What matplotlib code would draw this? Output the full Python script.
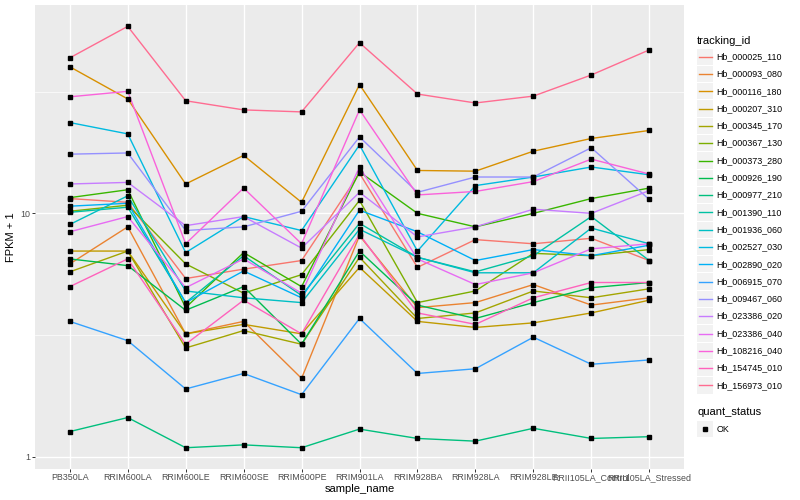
import numpy as np
import matplotlib.pyplot as plt
from matplotlib.patches import Rectangle
from matplotlib.lines import Line2D

plt.rcParams['font.family'] = ['Liberation Sans', 'DejaVu Sans']

# samples on the x axis
samples = ['PB350LA', 'RRIM600LA', 'RRIM600LE', 'RRIM600SE', 'RRIM600PE', 'RRIM901LA',
           'RRIM928BA', 'RRIM928LA', 'RRIM928LE', 'RRII105LA_Control', 'RRII105LA_Stressed']

tracking_ids = ['Hb_000025_110', 'Hb_000093_080', 'Hb_000116_180', 'Hb_000207_310', 'Hb_000345_170',
                'Hb_000367_130', 'Hb_000373_280', 'Hb_000926_190', 'Hb_000977_210', 'Hb_001390_110',
                'Hb_001936_060', 'Hb_002527_030', 'Hb_002890_020', 'Hb_006915_070', 'Hb_009467_060',
                'Hb_023386_020', 'Hb_023386_040', 'Hb_108216_040', 'Hb_154745_010', 'Hb_156973_010']

# ggplot hue palette for 20 levels
colours = ['#F8766D', '#EA8331', '#D89000', '#C09B00', '#A3A500', '#7CAE00', '#39B600', '#00BB4E',
           '#00BF7D', '#00C1A3', '#00BFC4', '#00BAE0', '#00B0F6', '#35A2FF', '#9590FF', '#C77CFF',
           '#E76BF3', '#FA62DB', '#FF62BC', '#FF6C91']

# FPKM + 1 values
hb_000025_110 = [11.5, 11.1, 5.4, 5.9, 6.4, 14.6, 6.0, 7.8, 7.5, 7.9, 6.4]
hb_000093_080 = [6.2, 8.8, 3.2, 3.6, 2.1, 8.1, 4.1, 4.3, 5.1, 4.2, 4.5]
hb_000116_180 = [40.0, 29.5, 13.2, 17.3, 11.1, 33.8, 15.0, 14.9, 18.0, 20.3, 21.9]
hb_000207_310 = [7.0, 7.0, 3.2, 3.5, 3.2, 6.0, 3.6, 3.4, 3.55, 3.9, 4.4]
hb_000345_170 = [5.75, 7.0, 2.8, 3.3, 2.9, 6.6, 3.7, 3.9, 4.8, 4.5, 4.9]
hb_000367_130 = [10.2, 10.8, 6.2, 4.7, 5.6, 11.3, 4.3, 4.8, 6.85, 6.7, 7.1]
hb_000373_280 = [11.6, 12.5, 4.1, 6.9, 5.0, 14.8, 10.0, 8.8, 10.0, 11.5, 12.7]
hb_000926_190 = [6.5, 6.1, 4.0, 5.0, 2.9, 7.0, 4.2, 3.7, 4.3, 4.95, 5.2]
hb_000977_210 = [1.27, 1.45, 1.09, 1.12, 1.09, 1.30, 1.19, 1.16, 1.31, 1.19, 1.21]
hb_001390_110 = [10.1, 10.6, 4.3, 6.7, 4.6, 9.1, 6.6, 5.75, 6.7, 9.7, 6.4]
hb_001936_060 = [9.0, 11.8, 4.8, 4.5, 4.3, 8.6, 6.6, 5.7, 5.7, 8.7, 7.5]
hb_002527_030 = [23.6, 21.2, 6.9, 9.7, 8.5, 19.1, 7.0, 13.0, 14.1, 15.5, 14.4]
hb_002890_020 = [10.7, 11.0, 4.3, 5.8, 4.5, 10.3, 8.4, 6.4, 7.1, 6.7, 7.4]
hb_006915_070 = [3.6, 3.0, 1.9, 2.2, 1.8, 3.7, 2.2, 2.3, 3.1, 2.4, 2.5]
hb_009467_060 = [17.5, 17.7, 8.5, 8.8, 10.2, 20.6, 12.2, 14.1, 14.1, 18.6, 11.4]
hb_023386_020 = [13.2, 13.4, 8.9, 9.7, 7.2, 12.2, 8.0, 8.8, 10.4, 10.0, 12.4]
hb_023386_040 = [8.4, 9.7, 4.95, 6.5, 4.7, 15.5, 6.5, 5.1, 5.7, 7.15, 7.5]
hb_108216_040 = [30.1, 31.7, 7.5, 12.7, 7.5, 26.6, 11.9, 12.3, 13.5, 16.7, 14.5]
hb_154745_010 = [5.0, 6.5, 2.9, 4.4, 3.2, 8.2, 3.9, 3.5, 4.5, 5.2, 5.2]
hb_156973_010 = [43.5, 58.6, 29.0, 26.6, 26.1, 50.2, 30.9, 28.4, 30.3, 37.0, 46.9]

series = [hb_000025_110, hb_000093_080, hb_000116_180, hb_000207_310, hb_000345_170,
          hb_000367_130, hb_000373_280, hb_000926_190, hb_000977_210, hb_001390_110,
          hb_001936_060, hb_002527_030, hb_002890_020, hb_006915_070, hb_009467_060,
          hb_023386_020, hb_023386_040, hb_108216_040, hb_154745_010, hb_156973_010]

W, H = 800, 500
fig = plt.figure(figsize=(8, 5), dpi=100)
ax = fig.add_axes([35 / W, 1 - 468.8 / H, (684 - 35) / W, (468.8 - 5.3) / H])
ax.set_facecolor('#EBEBEB')

x = np.arange(len(samples))
for vals, col in zip(series, colours):
    ax.plot(x, vals, color=col, lw=1.0, zorder=2)
for vals in series:
    ax.plot(x, vals, 's', color='black', ms=2.3, zorder=3)

# log scale with ggplot-like expansion
ax.set_yscale('log')
allv = np.log10(np.concatenate([np.array(s) for s in series]))
lo, hi = allv.min(), allv.max()
pad = 0.05 * (hi - lo)
ax.set_ylim(10 ** (lo - pad), 10 ** (hi + pad))
ax.set_xlim(-0.6, len(samples) - 0.4)

ax.set_yticks([1, 10])
ax.set_yticklabels(['1', '10'])
ax.set_yticks([10 ** 0.5, 10 ** 1.5], minor=True)
ax.set_yticklabels([], minor=True)
ax.set_xticks(x)
ax.set_xticklabels(samples)

ax.grid(True, which='major', color='white', lw=1.0, zorder=0)
ax.grid(True, which='minor', axis='y', color='white', lw=0.5, zorder=0)
ax.set_axisbelow(True)
for s in ax.spines.values():
    s.set_visible(False)
ax.tick_params(which='major', length=2.0, width=0.7, color='#333333', labelcolor='#4D4D4D',
               labelsize=6.4, pad=1.2)
ax.tick_params(which='minor', length=0)

ax.set_xlabel('sample_name', fontsize=8, labelpad=1.5)
ax.set_ylabel('FPKM + 1', fontsize=8, labelpad=3)

# legend drawn by hand in pixel space, ggplot style
def fx(px):
    return px / W

def fy(py):
    return 1 - py / H

fig.text(fx(697), fy(40.5), 'tracking_id', fontsize=8, va='center', ha='left')
step = 17.3
for i, (tid, col) in enumerate(zip(tracking_ids, colours)):
    yc = 56.7 + step * i
    fig.add_artist(Rectangle((fx(697), fy(yc + step / 2 - 0.5)), fx(16), (step - 1) / H,
                             transform=fig.transFigure, facecolor='#F2F2F2', edgecolor='none'))
    fig.add_artist(Line2D([fx(699), fx(712)], [fy(yc), fy(yc)], transform=fig.transFigure,
                          color=col, lw=1.0))
    fig.text(fx(716.5), fy(yc), tid, fontsize=6.4, va='center', ha='left')

fig.text(fx(697), fy(412.3), 'quant_status', fontsize=8, va='center', ha='left')
yc = 429
fig.add_artist(Rectangle((fx(697), fy(yc + step / 2 - 0.5)), fx(16), (step - 1) / H,
                         transform=fig.transFigure, facecolor='#F2F2F2', edgecolor='none'))
fig.add_artist(Line2D([fx(705)], [fy(yc)], transform=fig.transFigure, marker='s',
                      color='black', ms=2.3, lw=0))
fig.text(fx(716.5), fy(yc), 'OK', fontsize=6.4, va='center', ha='left')

fig.savefig('out.png', dpi=100)
